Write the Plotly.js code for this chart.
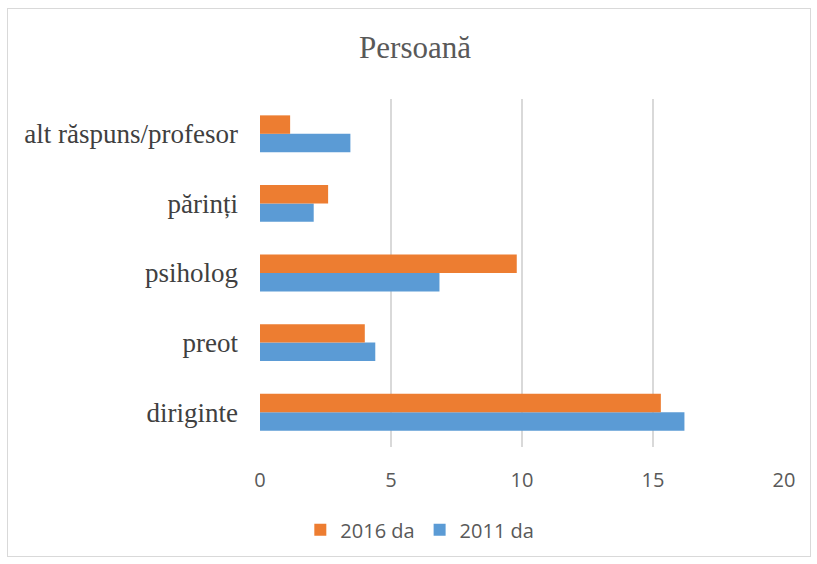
<!DOCTYPE html>
<html>
<head>
<meta charset="utf-8">
<script src="https://cdn.plot.ly/plotly-3.0.1.min.js"></script>
<style>
body{margin:0;padding:0;background:#fff;}
#wrap{position:relative;width:817px;height:564px;}
#chart{width:817px;height:564px;}
#frame{position:absolute;left:7px;top:8px;width:802px;height:547px;border:1px solid #d9d9d9;pointer-events:none;}
</style>
</head>
<body>
<div id="wrap"><div id="chart"></div><div id="frame"></div></div>
<script>
const categories = ["diriginte", "preot", "psiholog", "părinți", "alt răspuns/profesor"];
const values2016 = [15.3, 4.0, 9.8, 2.6, 1.15];
const values2011 = [16.2, 4.4, 6.85, 2.05, 3.45];
const seriesNames = ["2016 da", "2011 da"];
const xTicks = [0, 5, 10, 15, 20];

const traces = [
  {type:'bar', orientation:'h', name:seriesNames[1], y:categories, x:values2011,
   marker:{color:'#5B9BD5'}, hoverinfo:'x'},
  {type:'bar', orientation:'h', name:seriesNames[0], y:categories, x:values2016,
   marker:{color:'#ED7D31'}, hoverinfo:'x'}
];

const layout = {
  width:817, height:564,
  margin:{l:260, r:33, t:99, b:117},
  paper_bgcolor:'#fff', plot_bgcolor:'#fff',
  title:{text:'Persoană', x:0.508, xanchor:'center', y:0.917, yanchor:'middle',
         font:{family:'Liberation Serif, Times New Roman, serif', size:31, color:'#595959'}},
  barmode:'group', bargap:0.47, bargroupgap:0,
  xaxis:{range:[0,20], tickvals:xTicks, ticktext:xTicks.map(String), showgrid:true,
         gridcolor:'#d9d9d9', gridwidth:2, zeroline:false, showline:false,
         ticks:'', ticklabelstandoff:19,
         tickfont:{family:'Open Sans, Liberation Sans, sans-serif', size:20, color:'#595959'}},
  yaxis:{type:'category', categoryorder:'array', categoryarray:categories,
         showgrid:false, zeroline:false, showline:false, ticks:'', ticklabelstandoff:21,
         tickfont:{family:'Liberation Serif, Times New Roman, serif', size:27, color:'#404040'}},
  legend:{orientation:'h', traceorder:'reversed', x:0.305, xanchor:'center', y:-0.238, yanchor:'middle',
          font:{family:'Open Sans, Liberation Sans, sans-serif', size:20, color:'#595959'},
          itemwidth:30, itemsizing:'constant'},
  showlegend:true
};

Plotly.newPlot('chart', traces, layout, {displayModeBar:false, staticPlot:true});
</script>
</body>
</html>
